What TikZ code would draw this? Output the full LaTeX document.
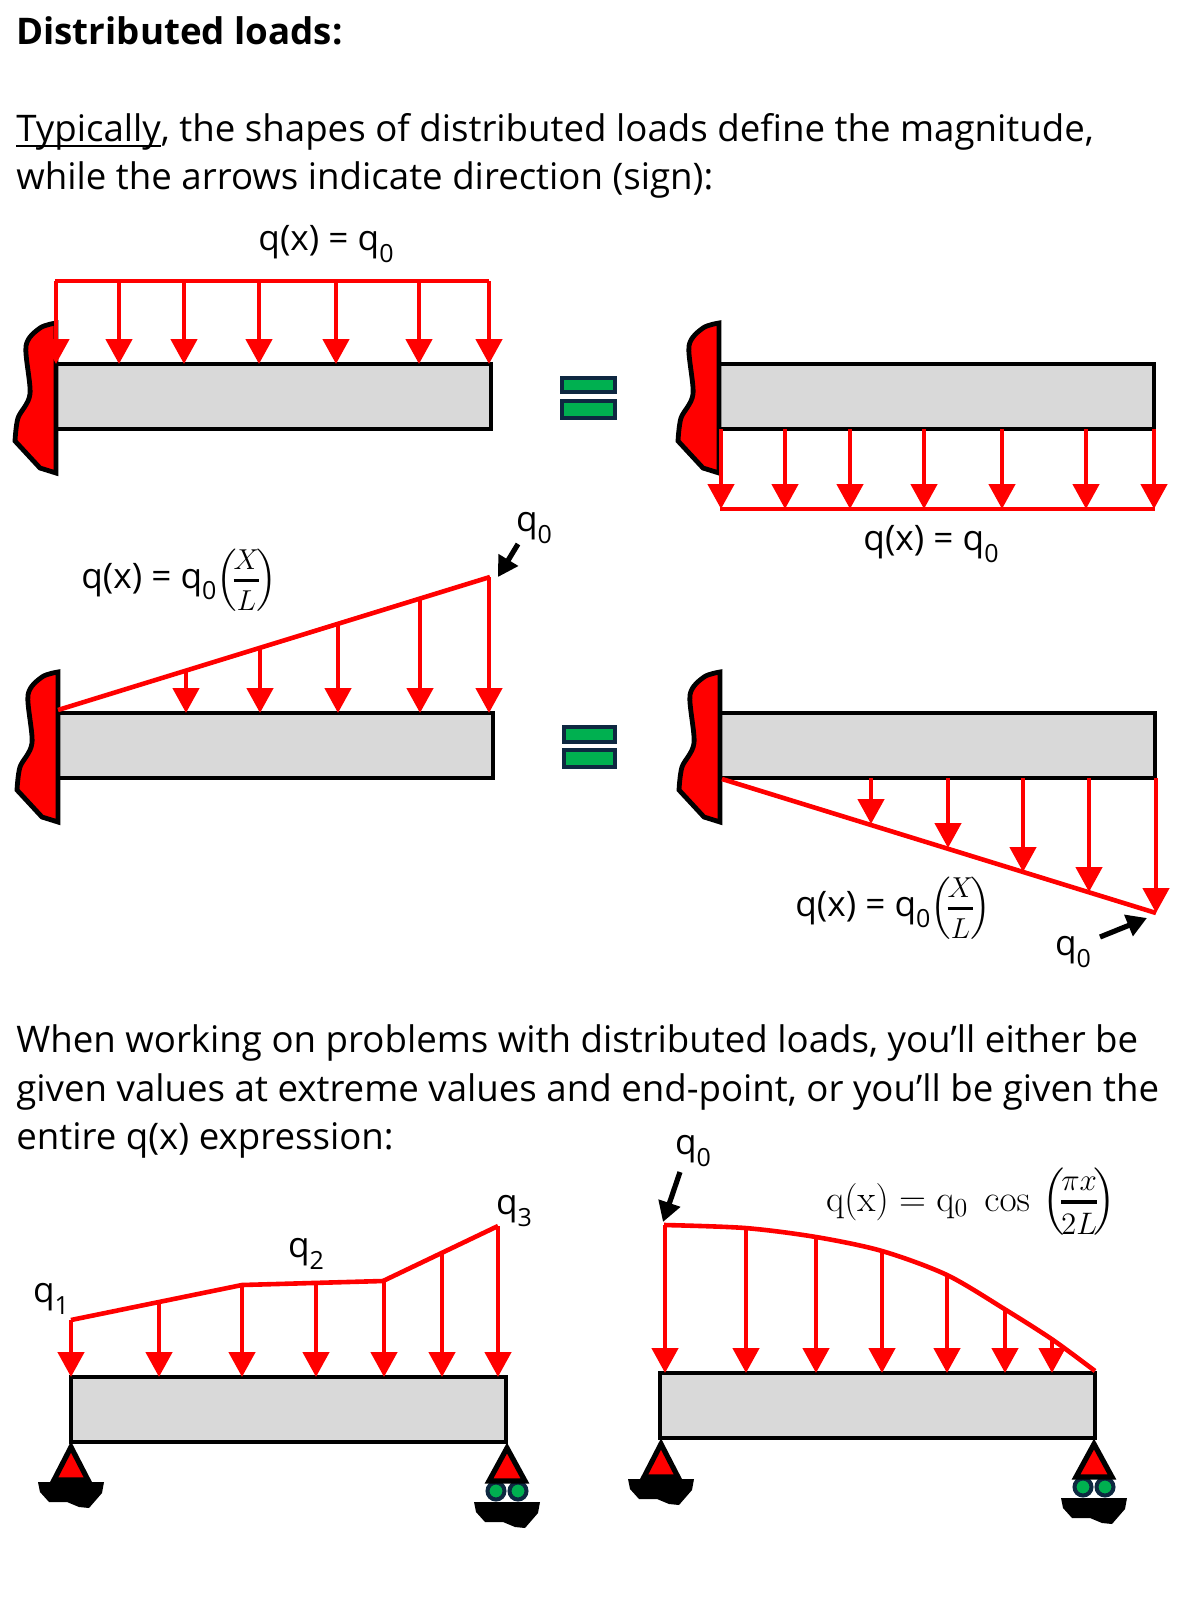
\documentclass[tikz,border=0pt]{standalone}
\usepackage{amsmath}
\usepackage[no-math]{fontspec}
\setmainfont{Open Sans}
\usetikzlibrary{arrows.meta}
\definecolor{beamgray}{HTML}{D9D9D9}
\definecolor{eqgreen}{HTML}{00B050}
\definecolor{eqnavy}{HTML}{0E2841}
\newcommand{\qsub}[1]{q\raisebox{-0.32em}{\fontsize{12.5}{14}\selectfont #1}}
\newcommand{\qtop}[1]{\mbox{\fontsize{14}{16}\selectfont\rule[-3pt]{0pt}{3pt}$#1$}}
\newcommand{\qbot}[1]{\mbox{\fontsize{14}{16}\selectfont\rule{0pt}{13pt}$#1$}}
\newcommand{\qfrac}[2]{\left(\!\genfrac{}{}{1.5pt}{1}{\qtop{#1}}{\qbot{#2}}\!\right)}
\tikzset{
body text/.style={anchor=base west,inner sep=0pt,font=\fontsize{18.32}{22}\selectfont}, % Running text lines
eq label/.style={inner sep=0pt,font=\fontsize{17.6}{20}\selectfont}, % Labels next to the loads
beam/.style={draw,fill=beamgray,line width=2.3pt,anchor=north west,inner sep=0pt,outer sep=0pt,
minimum width=217.5pt,minimum height=32.5pt},
load line/.style={draw=red,line width=2.3pt},
load arrow/.style={draw=red,line width=2.3pt,-{Triangle[length=12.5pt,width=13pt]}}, % Red arrows of a load
pointer/.style={line width=2.6pt,-{Triangle[length=10pt,width=11pt]}}, % Black arrows to q0
eq bar/.style={draw=eqnavy,fill=eqgreen,line width=2pt},
wall/.pic={
\draw[fill=red,line width=2.4pt] (0,109) -- (-16,104) -- (-41,77) -- plot[smooth] coordinates {(-41,77) (-38,54) (-26,30) (-30,-18) (-16,-36) (0,-41)} -- cycle;
},
pinsup/.pic={
\fill (-33,38) -- (33,38) -- (31,49) -- (18,64) -- (8,63) -- (-4,58) -- (-22,58) -- (-31,48) -- cycle;
\draw[fill=red,line width=2.6pt] (0,3) -- (17,36) -- (-17,36) -- cycle;
},
rollersup/.pic={
\fill (-33,57) -- (33,57) -- (31,68) -- (18,83) -- (8,82) -- (-4,77) -- (-22,77) -- (-31,67) -- cycle;
\draw[draw=eqnavy,fill=eqgreen,line width=2pt] (-11,46) circle[radius=8.5] (11,46) circle[radius=8.5];
\draw[fill=red,line width=2.6pt] (0,3) -- (18,36) -- (-18,36) -- cycle;
}}
\begin{document}
\begin{tikzpicture}[x=0.5pt,y=-0.5pt]
    \useasboundingbox (0,0) rectangle (1200,1600);

    % text lines
    \node[body text,font=\fontsize{18.35}{22}\bfseries] (title) at (16,45) {Distributed loads:};
    \node[body text] (line1) at (16,141) {\underline{\smash{Typically}}, the shapes of distributed loads define the magnitude,};
    \node[body text] (line2) at (16,189) {while the arrows indicate direction (sign):};
    \node[body text] (line3) at (16,1052) {When working on problems with distributed loads, you’ll either be};
    \node[body text] (line4) at (16,1101) {given values at extreme values and end-point, or you’ll be given the};
    \node[body text] (line5) at (16,1149) {entire q(x) expression:};

    % top left
    \node[beam] (b1) at (56,364) {};
    \pic at (56,364) {wall};
    \draw[load line] (55,281) -- (489,281);
    \draw[load arrow] (56,281) -- (56,281 |- b1.north);
    \draw[load arrow] (119,281) -- (119,281 |- b1.north);
    \draw[load arrow] (184,281) -- (184,281 |- b1.north);
    \draw[load arrow] (259,281) -- (259,281 |- b1.north);
    \draw[load arrow] (336,281) -- (336,281 |- b1.north);
    \draw[load arrow] (419,281) -- (419,281 |- b1.north);
    \draw[load arrow] (489,281) -- (489,281 |- b1.north);
    \node[eq label] (q1) at (326,244) {q(x) = \qsub{0}};

    \draw[eq bar] (562,378) rectangle (615,392);
    \draw[eq bar] (562,401) rectangle (615,418);

    % top right
    \node[beam] (b2) at (719,364) {};
    \pic at (719,364) {wall};
    \draw[load line] (720,509) -- (1155,509);
    \draw[load arrow] (721,0 |- b2.south) -- (721,509);
    \draw[load arrow] (785,0 |- b2.south) -- (785,509);
    \draw[load arrow] (850,0 |- b2.south) -- (850,509);
    \draw[load arrow] (924,0 |- b2.south) -- (924,509);
    \draw[load arrow] (1002,0 |- b2.south) -- (1002,509);
    \draw[load arrow] (1086,0 |- b2.south) -- (1086,509);
    \draw[load arrow] (1154,0 |- b2.south) -- (1154,509);
    \node[eq label] (q2) at (931,544) {q(x) = \qsub{0}};

    % middle left
    \node[beam] (b3) at (58,713) {};
    \pic at (58,713) {wall};
    \draw[load line] (58,710) -- (490,577);
    \draw[load arrow] (186,671) -- (186,671 |- b3.north);
    \draw[load arrow] (260,648) -- (260,648 |- b3.north);
    \draw[load arrow] (338,624) -- (338,624 |- b3.north);
    \draw[load arrow] (420,599) -- (420,599 |- b3.north);
    \draw[load arrow] (489,577) -- (489,577 |- b3.north);
    \node[eq label] (q3) at (179,580) {q(x) = \qsub{0}$\qfrac{X}{L}$};
    \node[eq label] (q3end) at (534,528) {\qsub{0}};
    \coordinate (p3) at (518,544);
    \coordinate (p3tip) at (498,577);
    \draw[pointer] (p3) -- (p3tip);

    \draw[eq bar] (564,727) rectangle (615,742);
    \draw[eq bar] (564,750) rectangle (615,767);

    % middle right
    \node[beam] (b4) at (720,713) {};
    \pic at (720,713) {wall};
    \draw[load line] (722,779) -- (1156,913);
    \draw[load arrow] (871,0 |- b4.south) -- (871,824);
    \draw[load arrow] (948,0 |- b4.south) -- (948,848);
    \draw[load arrow] (1023,0 |- b4.south) -- (1023,872);
    \draw[load arrow] (1089,0 |- b4.south) -- (1089,892);
    \draw[load arrow] (1156,0 |- b4.south) -- (1156,913);
    \node[eq label] (q4) at (893,908) {q(x) = \qsub{0}$\qfrac{X}{L}$};
    \node[eq label] (q4end) at (1073,952) {\qsub{0}};
    \coordinate (p4) at (1100,937);
    \coordinate (p4tip) at (1147,918);
    \draw[pointer] (p4) -- (p4tip);

    % bottom left
    \node[beam] (b5) at (71,1377) {};
    \pic at (71,1444) {pinsup};
    \pic at (507,1445) {rollersup};
    \draw[load line,line join=round] (71,1320) -- (242,1285) -- (383,1281) -- (498,1226);
    \draw[load arrow] (71,1320) -- (71,1320 |- b5.north);
    \draw[load arrow] (159,1302) -- (159,1302 |- b5.north);
    \draw[load arrow] (242,1285) -- (242,1285 |- b5.north);
    \draw[load arrow] (316,1283) -- (316,1283 |- b5.north);
    \draw[load arrow] (384,1281) -- (384,1281 |- b5.north);
    \draw[load arrow] (442,1253) -- (442,1253 |- b5.north);
    \draw[load arrow] (498,1226) -- (498,1226 |- b5.north);
    \node[eq label] (qa) at (51,1299) {\qsub{1}};
    \node[eq label] (qb) at (306,1254) {\qsub{2}};
    \node[eq label] (qc) at (514,1211) {\qsub{3}};

    % bottom right
    \node[beam] (b6) at (660,1373) {};
    \pic at (661,1441) {pinsup};
    \pic at (1094,1441) {rollersup};
    \draw[load line] plot[smooth] coordinates {(664,1225) (745,1228) (816,1237) (882,1251) (947,1275) (1006,1310) (1053,1340) (1095,1371)};
    \draw[load arrow] (665,1225) -- (665,1225 |- b6.north);
    \draw[load arrow] (746,1228) -- (746,1228 |- b6.north);
    \draw[load arrow] (816,1237) -- (816,1237 |- b6.north);
    \draw[load arrow] (882,1251) -- (882,1251 |- b6.north);
    \draw[load arrow] (947,1275) -- (947,1275 |- b6.north);
    \draw[load arrow] (1005,1310) -- (1005,1310 |- b6.north);
    \draw[load arrow] (1052,1340) -- (1052,1340 |- b6.north);
    \node[eq label] (qd) at (693,1151) {\qsub{0}};
    \coordinate (p6) at (680,1172);
    \coordinate (p6tip) at (663,1222);
    \draw[pointer] (p6) -- (p6tip);
    \node[eq label] (q6) at (971,1202) {\scalebox{1.08}{$\mathrm{q(x)=q_0\ \cos}\,\qfrac{\pi x}{2L}$}};
\end{tikzpicture}
\end{document}
